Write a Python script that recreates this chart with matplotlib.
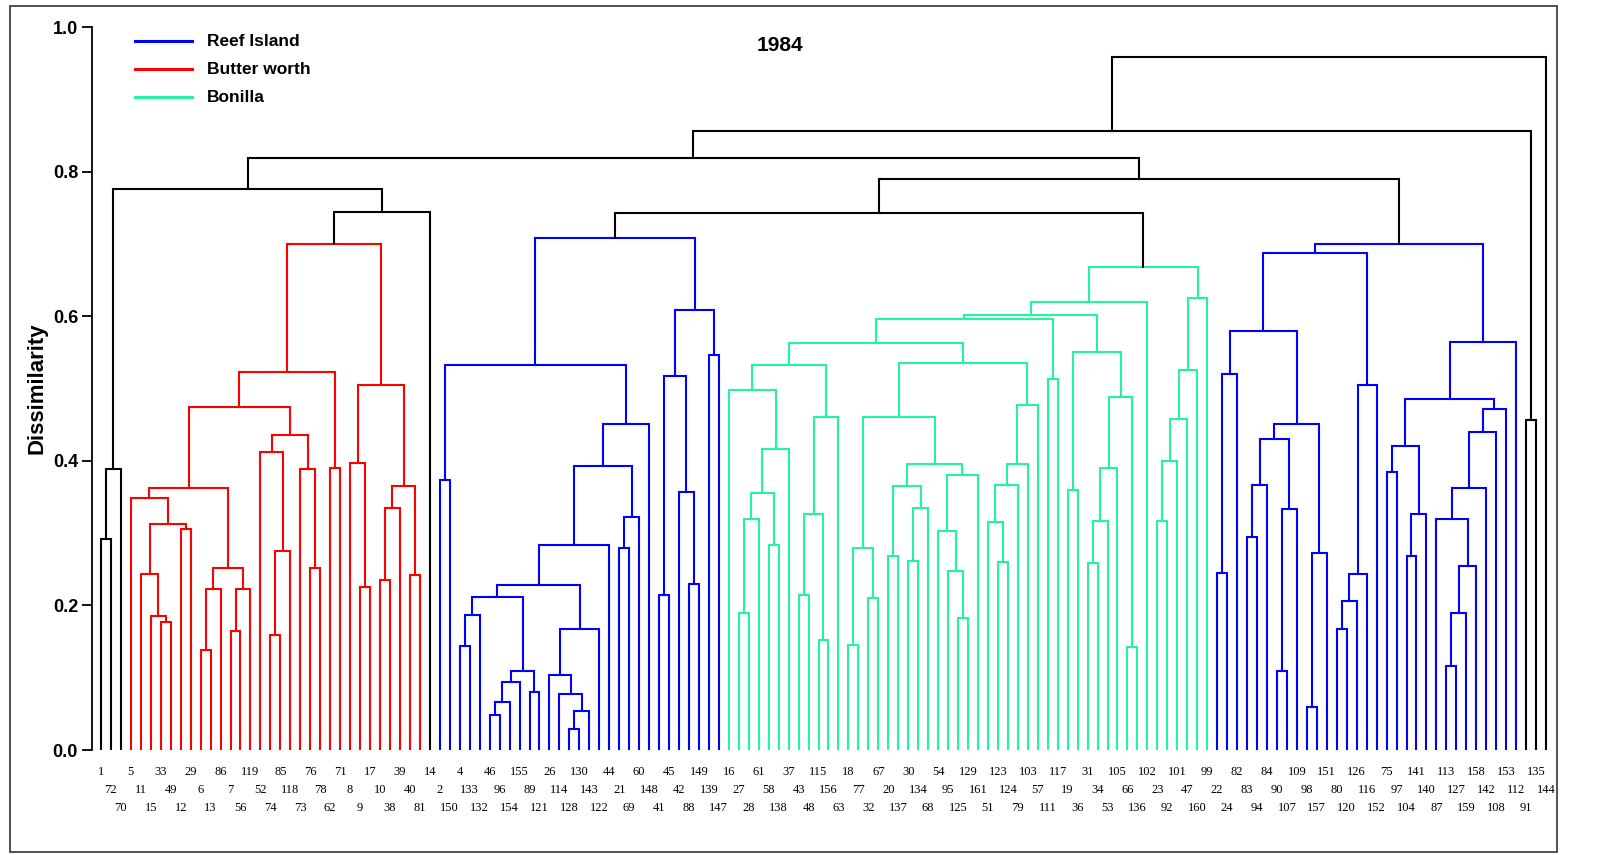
import matplotlib
matplotlib.use("Agg")
import matplotlib.pyplot as plt
from matplotlib.patches import Rectangle

leaf_labels = [1,72,70,5,11,15,33,49,12,29,6,13,86,7,56,119,52,74,85,118,73,76,78,62,71,8,9,17,10,38,
               39,40,81,14,2,150,4,133,132,46,96,154,155,89,121,26,114,128,130,143,122,44,21,69,60,148,41,45,42,88,
               149,139,147,16,27,28,61,58,138,37,43,48,115,156,63,18,77,32,67,20,137,30,134,68,54,95,125,129,161,51,
               123,124,79,103,57,111,117,19,36,31,34,53,105,66,136,102,23,92,101,47,160,99,22,24,82,83,94,84,90,107,
               109,98,157,151,80,120,126,116,152,75,97,104,141,140,87,113,127,159,158,142,108,153,112,91,135,144]

# (node, left, right, dissimilarity); prefix: r=Butter worth, u/v=Reef Island, g=Bonilla, k/b=black
merges = [
 ("b1",0,1,0.292),("b2","b1",2,0.388),
 ("r67",6,7,0.177),("r5",5,"r67",0.185),("r4",4,"r5",0.243),("r89",8,9,0.305),("rB","r4","r89",0.313),("rA",3,"rB",0.348),
 ("r1011",10,11,0.138),("r12","r1011",12,0.222),("r1314",13,14,0.164),("r15","r1314",15,0.222),("rE","r12","r15",0.252),("rF","rA","rE",0.363),
 ("r1718",17,18,0.159),("r19","r1718",19,0.275),("rG",16,"r19",0.412),("r2122",21,22,0.252),("rH",20,"r2122",0.388),("rI","rG","rH",0.436),("rJ","rF","rI",0.475),
 ("r2324",23,24,0.390),("rK","rJ","r2324",0.523),
 ("r2627",26,27,0.225),("r25",25,"r2627",0.397),("r2829",28,29,0.235),("r30","r2829",30,0.335),("r3132",31,32,0.242),("r2832","r30","r3132",0.365),("rL","r25","r2832",0.505),
 ("rRoot","rK","rL",0.700),
 ("k1","rRoot",33,0.744),("k2","b2","k1",0.776),
 ("u3435",34,35,0.374),("u3637",36,37,0.144),("u38","u3637",38,0.187),("u3940",39,40,0.049),("u41","u3940",41,0.067),("u42","u41",42,0.094),
 ("u4344",43,44,0.080),("u3944","u42","u4344",0.109),("u3644","u38","u3944",0.212),
 ("u4748",47,48,0.029),("u49","u4748",49,0.054),("u46",46,"u49",0.077),("u45",45,"u46",0.104),("u50","u45",50,0.167),("u3650","u3644","u50",0.228),
 ("u51","u3650",51,0.283),("u5253",52,53,0.280),("u54","u5253",54,0.322),("u5154","u51","u54",0.393),("u55","u5154",55,0.451),("u3455","u3435","u55",0.533),
 ("u5657",56,57,0.215),("u5960",59,60,0.229),("u58",58,"u5960",0.357),("u5660","u5657","u58",0.517),("u6162",61,62,0.547),("u5662","u5660","u6162",0.608),
 ("uRoot","u3455","u5662",0.708),
 ("g6465",64,65,0.189),("g66","g6465",66,0.320),("g6768",67,68,0.283),("g6468","g66","g6768",0.355),("g69","g6468",69,0.417),("g63",63,"g69",0.498),
 ("g7071",70,71,0.215),("g7273",72,73,0.152),("g7073","g7071","g7273",0.327),("g74","g7073",74,0.460),("g6374","g63","g74",0.532),
 ("g7576",75,76,0.145),("g7778",77,78,0.210),("g7578","g7576","g7778",0.280),("g7980",79,80,0.269),("g8182",81,82,0.262),("g83","g8182",83,0.335),
 ("g7983","g7980","g83",0.365),("g8687",86,87,0.182),("g85",85,"g8687",0.247),("g84",84,"g85",0.303),("g88","g84",88,0.380),("g7988","g7983","g88",0.396),
 ("g7588","g7578","g7988",0.460),
 ("g9091",90,91,0.260),("g89",89,"g9091",0.315),("g92","g89",92,0.367),("g93","g92",93,0.395),("g94","g93",94,0.477),("g7594","g7588","g94",0.535),
 ("g6394","g6374","g7594",0.563),("g9596",95,96,0.513),("gX1","g6394","g9596",0.596),
 ("g9798",97,98,0.360),("g99100",99,100,0.258),("g101","g99100",101,0.317),("g102","g101",102,0.390),("g103104",103,104,0.142),("gY","g102","g103104",0.488),
 ("g97104","g9798","gY",0.550),("gX2","gX1","g97104",0.601),("g105","gX2",105,0.620),
 ("g106107",106,107,0.317),("g108","g106107",108,0.400),("g109","g108",109,0.458),("g110","g109",110,0.525),("g111","g110",111,0.625),
 ("gRoot","g105","g111",0.668),
 ("k3","uRoot","gRoot",0.743),
 ("v112113",112,113,0.245),("v114","v112113",114,0.520),("v115116",115,116,0.295),("v117","v115116",117,0.367),("v118119",118,119,0.109),("v120","v118119",120,0.333),
 ("v115120","v117","v120",0.430),("v121122",121,122,0.060),("v123","v121122",123,0.273),("v115123","v115120","v123",0.451),("vZ1","v114","v115123",0.579),
 ("v124125",124,125,0.167),("v126","v124125",126,0.206),("v127","v126",127,0.244),("v128","v127",128,0.505),("v112128","vZ1","v128",0.688),
 ("v129130",129,130,0.385),("v131132",131,132,0.269),("v133","v131132",133,0.327),("v129133","v129130","v133",0.420),
 ("v135136",135,136,0.116),("v137","v135136",137,0.189),("v138","v137",138,0.255),("v134",134,"v138",0.320),("v139","v134",139,0.363),
 ("v140","v139",140,0.440),("v141","v140",141,0.471),("v129141","v129133","v141",0.485),("v142","v129141",142,0.565),("vRoot","v112128","v142",0.700),
 ("k4","k3","vRoot",0.790),("k5","k2","k4",0.819),("k6",143,144,0.457),("k7","k5","k6",0.856),("kTop","k7",145,0.958),
]

legend_names = ["Reef Island", "Butter worth", "Bonilla"]
BLUE, RED, GREEN = "#0000FF", "#FF0000", "#22F59E"
group_color = {"u": BLUE, "v": BLUE, "r": RED, "g": GREEN}

fig = plt.figure(figsize=(16.22, 8.55), dpi=100)
W, H = 1622, 855
ax = fig.add_axes([92/W, (855-750)/H, (1555-92)/W, 723/H])
ax.set_xlim(-0.9, 145.9)
ax.set_ylim(0, 1.0)

pos = {}
hgt = {}
for i in range(len(leaf_labels)):
    pos[i] = i
    hgt[i] = 0.0
for name, l, r, h in merges:
    c = group_color.get(name[0], "black")
    xl, xr = pos[l], pos[r]
    ax.plot([xl, xl, xr, xr], [hgt[l], h, h, hgt[r]], color=c, lw=1.5, solid_joinstyle="miter")
    pos[name] = (xl + xr) / 2
    hgt[name] = h

for s in ["top", "right", "bottom"]:
    ax.spines[s].set_visible(False)
ax.spines["left"].set_linewidth(1.3)
ax.set_xticks([])
ax.set_yticks([0, 0.2, 0.4, 0.6, 0.8, 1.0])
ax.set_yticklabels(["0.0", "0.2", "0.4", "0.6", "0.8", "1.0"], fontsize=13, fontweight="bold", family="Liberation Sans")
ax.tick_params(axis="y", length=7, width=1.3, direction="out", pad=3)
ax.set_ylabel("Dissimilarity", fontsize=16, fontweight="bold", family="Liberation Sans", labelpad=4)

for i, lab in enumerate(leaf_labels):
    row = i % 3
    ax.text(i, -0.030 - row * 0.025, str(lab), ha="center", va="center", fontsize=9,
            family="Liberation Serif", clip_on=False)

ax.text(0.47, 0.975, "1984", transform=ax.transAxes, ha="center", va="center", fontsize=15,
        fontweight="bold", family="Liberation Sans")

for k, (nm, c) in enumerate(zip(legend_names, [BLUE, RED, GREEN])):
    y = 1 - (41 + 28 * k) / H
    fig.add_artist(plt.Line2D([135/W, 192/W], [y, y], color=c, lw=2.2))
    fig.text(207/W, y, nm, ha="left", va="center", fontsize=12.5, fontweight="bold", family="Liberation Sans")

fig.add_artist(Rectangle((10/W, 3/H), 1547/W, 846/H, fill=False, edgecolor="#333333", lw=1.2, transform=fig.transFigure))

fig.savefig("out.png", dpi=100)
